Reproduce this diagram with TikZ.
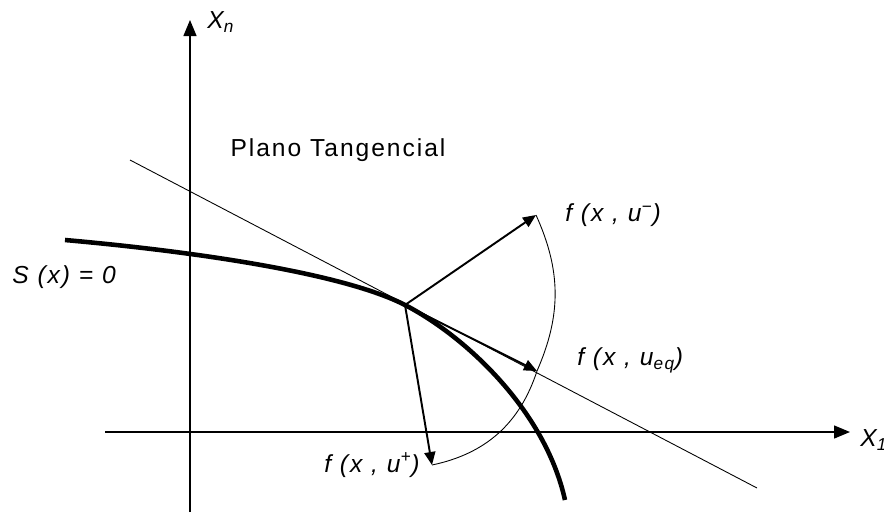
\documentclass[tikz,border=0pt]{standalone}
\usepackage{fontspec}
\setmainfont{Liberation Sans}
\newfontfamily\lblfont[LetterSpace=8]{Liberation Sans}
\usetikzlibrary{arrows.meta, positioning}

\begin{document}
\begin{tikzpicture}[
    x=0.2mm, y=-0.2mm,
    axis/.style={-{Triangle[length=3.2mm, width=2.6mm]}, line width=0.8pt},
    vec/.style={-{Triangle[length=2.6mm, width=2.2mm]}, line width=1.1pt},
    lbl/.style={font=\fontsize{14}{16}\lblfont\itshape, inner sep=0pt},
    curve/.style={line width=2.6pt},
    tangent/.style={line width=0.5pt},
    sweep/.style={line width=0.5pt}
]
\useasboundingbox (0,0) rectangle (884,517);
\coordinate (p) at (405,305);
\coordinate (um) at (536,215);
\coordinate (ueq) at (537,371);
\coordinate (up) at (432,465);
\coordinate (o1) at (105,432);
\coordinate (e1) at (850,432);
\coordinate (on) at (190,512);
\coordinate (en) at (190,20);
\coordinate (t1) at (130,160);
\coordinate (t2) at (757,488);
\coordinate (s0) at (65,240);
\coordinate (s1) at (565,500);
\draw[axis] (o1) -- (e1);
\draw[axis] (on) -- (en);
\draw[tangent] (t1) -- (t2);
\draw[curve] (s0) .. controls (200,252) and (345,274) .. (p)
    .. controls (465,336) and (545,410) .. (s1);
\draw[vec] (p) -- (um);
\draw[vec] (p) -- (ueq);
\draw[vec] (p) -- (up);
\draw[sweep] (um) to[bend left=24] (ueq) to[bend left=30] (up);
\node[lbl, anchor=west] (lxn) at (207,22) {X\textsubscript{n}};
\node[lbl, anchor=west] (lx1) at (860,440) {X\textsubscript{1}};
\node[lbl] (plano) at (338,150) {\upshape Plano Tangencial};
\node[lbl, anchor=west] (ls) at (12,277) {S (x) = 0};
\node[lbl, right=5.8mm of um] (lum) {f (x , u\textsuperscript{−})};
\node[lbl, anchor=west] (lueq) at (577,360) {f (x , u\textsubscript{eq})};
\node[lbl, left=2.4mm of up] (lup) {f (x , u\textsuperscript{+})};
\end{tikzpicture}
\end{document}
